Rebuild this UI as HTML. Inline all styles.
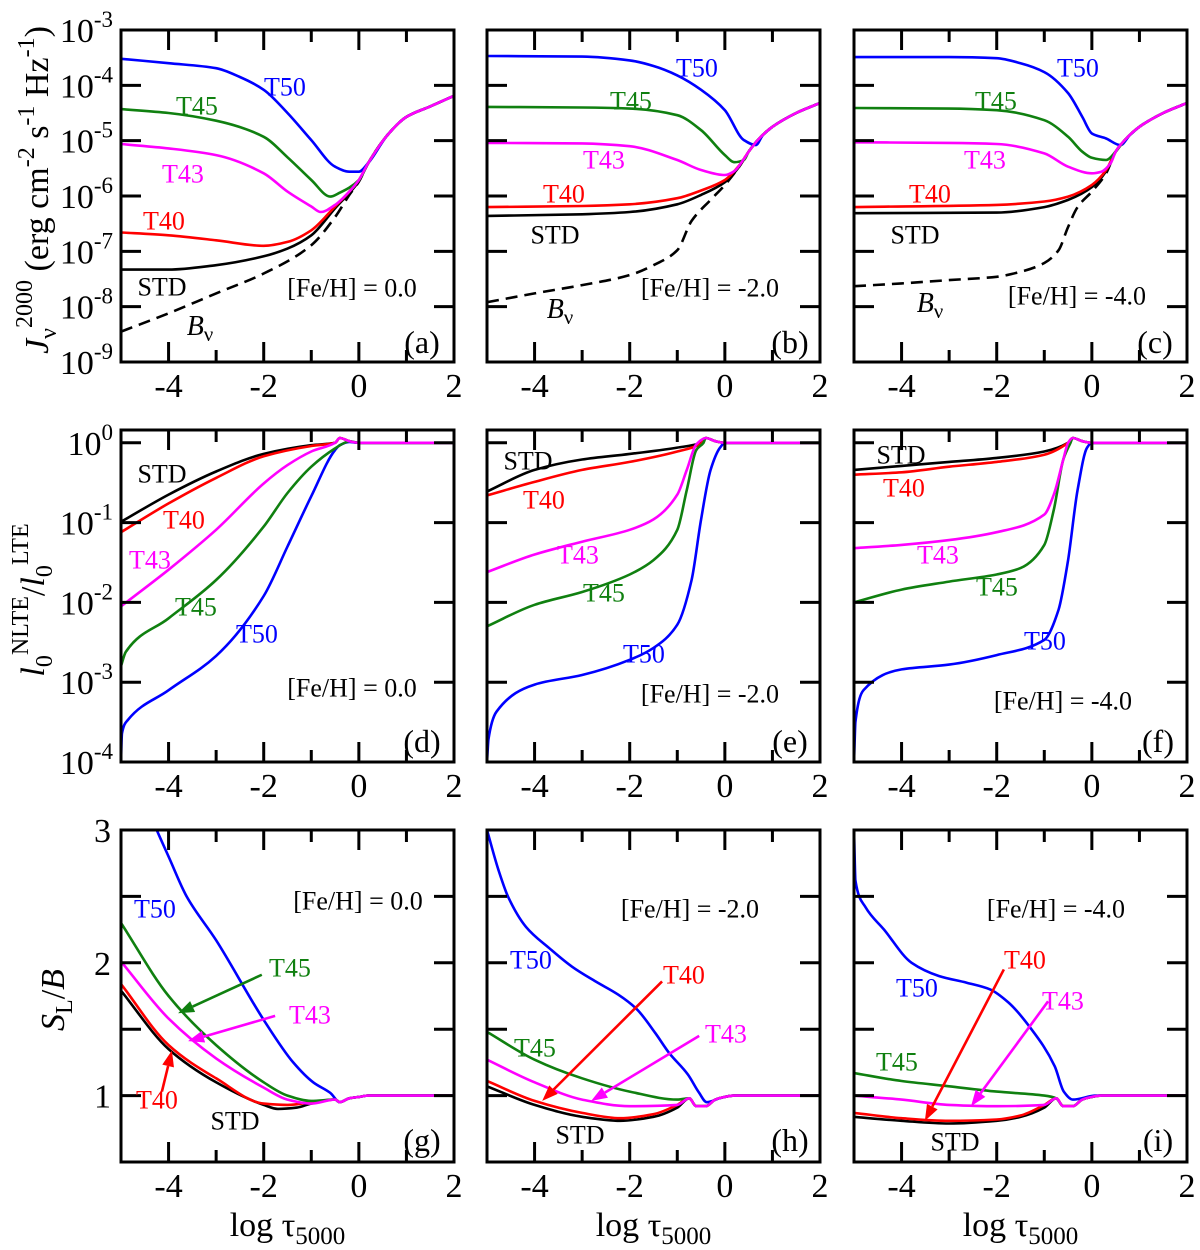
<!DOCTYPE html>
<html><head><meta charset="utf-8"><title>NLTE panels</title>
<style>
html,body{margin:0;padding:0;background:#fff;}
svg{display:block;font-family:"Liberation Serif","DejaVu Serif",serif;}
</style></head>
<body>
<svg id="fig" width="1200" height="1250" viewBox="0 0 1200 1250" xmlns="http://www.w3.org/2000/svg"></svg>
<script>
// ---------- data: row 1 (log10 J_nu) ----------
const tailA = [[0.2,-5.4],[0.6,-4.9],[1,-4.57],[1.5,-4.38],[2,-4.19]];
const a_T50 = [[-5,-3.52],[-4,-3.6],[-3,-3.69],[-2.5,-3.85],[-2,-4.08],[-1.5,-4.5],[-1,-4.99],[-0.5,-5.47],[-0.2,-5.56],[0,-5.56]];
const a_T45 = [[-5,-4.43],[-4,-4.5],[-3,-4.64],[-2,-4.93],[-1.5,-5.3],[-1,-5.71],[-0.6,-6.01],[-0.4,-5.94],[0,-5.71]];
const a_T43 = [[-5,-5.06],[-4,-5.14],[-3,-5.26],[-2,-5.59],[-1.5,-5.92],[-1,-6.19],[-0.8,-6.29],[-0.5,-6.16],[-0.2,-5.92],[0,-5.71]];
const a_T40 = [[-5,-6.66],[-4,-6.71],[-3,-6.8],[-2,-6.9],[-1.5,-6.83],[-1,-6.62],[-0.5,-6.19],[-0.2,-5.92],[0,-5.71]];
const a_STD = [[-5,-7.33],[-4,-7.33],[-3,-7.25],[-2,-7.09],[-1.5,-6.95],[-1,-6.71],[-0.5,-6.22],[0,-5.73]];
const a_Bv = [[-5,-8.45],[-4,-8.12],[-3,-7.76],[-2,-7.4],[-1,-6.89],[-0.5,-6.38],[-0.2,-5.98],[0,-5.74]];
const tailB = [[0.5,-5.2],[0.7,-4.98],[1,-4.75],[1.5,-4.5],[2,-4.32]];
const b_T50 = [[-5,-3.47],[-3,-3.48],[-2,-3.55],[-1.5,-3.65],[-1,-3.82],[-0.5,-4.08],[0,-4.45],[0.4,-4.99],[0.65,-5.08],[0.8,-4.9],[1,-4.75]];
const b_T45 = [[-5,-4.39],[-3,-4.4],[-2,-4.42],[-1,-4.54],[-0.5,-4.81],[0,-5.26],[0.2,-5.39],[0.4,-5.35]];
const b_T43 = [[-5,-5.04],[-3,-5.05],[-2,-5.1],[-1,-5.35],[-0.5,-5.53],[0,-5.62],[0.2,-5.55],[0.4,-5.33]];
const b_T40 = [[-5,-6.2],[-3,-6.18],[-2,-6.15],[-1,-6.04],[-0.5,-5.9],[0,-5.71],[0.3,-5.45]];
const b_STD = [[-5,-6.36],[-3,-6.33],[-2,-6.29],[-1,-6.15],[-0.5,-5.98],[0,-5.75],[0.3,-5.47]];
const b_Bv = [[-5,-7.92],[-4,-7.76],[-3,-7.61],[-2,-7.43],[-1.5,-7.25],[-1,-6.98],[-0.7,-6.45],[-0.3,-6.07],[0,-5.8],[0.3,-5.47]];
const tailC = [[0.5,-5.2],[0.7,-4.98],[1,-4.75],[1.5,-4.5],[2,-4.32]];
const c_T50 = [[-5,-3.49],[-3,-3.49],[-2,-3.51],[-1.5,-3.6],[-1,-3.76],[-0.5,-4.14],[-0.2,-4.57],[0,-4.87],[0.3,-4.96],[0.6,-5.08],[0.8,-4.9],[1,-4.75]];
const c_T45 = [[-5,-4.41],[-3,-4.42],[-2,-4.45],[-1,-4.63],[-0.5,-4.93],[-0.2,-5.2],[0,-5.31],[0.3,-5.35]];
const c_T43 = [[-5,-5.03],[-3,-5.04],[-2,-5.06],[-1,-5.23],[-0.5,-5.47],[0,-5.59],[0.2,-5.56],[0.4,-5.4]];
const c_T40 = [[-5,-6.2],[-2,-6.16],[-1,-6.1],[-0.5,-6.01],[0,-5.8],[0.3,-5.53]];
const c_STD = [[-5,-6.31],[-2,-6.3],[-1,-6.2],[-0.5,-6.07],[0,-5.84],[0.3,-5.55]];
const c_Bv = [[-5,-7.63],[-4,-7.58],[-3,-7.52],[-2,-7.46],[-1.5,-7.37],[-1,-7.21],[-0.7,-6.98],[-0.5,-6.56],[-0.3,-6.2],[0,-5.92],[0.3,-5.59]];
// ---------- data: row 2 (log10 departure coefficient) ----------
const tail2 = [[-0.4,0.06],[-0.2,0.02],[0,0],[2,0]];
const d_STD = [[-5,-0.99],[-4,-0.65],[-3,-0.36],[-2,-0.14],[-1,-0.03],[-0.5,0]];
const d_T40 = [[-5,-1.12],[-4,-0.76],[-3,-0.44],[-2,-0.17],[-1,-0.04],[-0.5,0]];
const d_T43 = [[-5,-2.05],[-4,-1.59],[-3,-1.09],[-2,-0.51],[-1.5,-0.28],[-1,-0.11],[-0.5,0]];
const d_T45 = [[-5,-2.8],[-4.9,-2.62],[-4,-2.2],[-3,-1.72],[-2,-1.05],[-1.5,-0.63],[-1,-0.3],[-0.5,-0.07],[-0.3,0]];
const d_T50 = [[-5,-4],[-4.98,-3.64],[-4.85,-3.47],[-4,-3.1],[-3,-2.67],[-2,-1.92],[-1.5,-1.3],[-1,-0.67],[-0.5,-0.09],[-0.4,-0.03],[-0.2,0.01]];
const e_STD = [[-5,-0.61],[-4,-0.34],[-3,-0.21],[-2,-0.14],[-1,-0.06],[-0.5,0]];
const e_T40 = [[-5,-0.66],[-4,-0.49],[-3,-0.34],[-2,-0.24],[-1,-0.11],[-0.5,-0.01]];
const e_T43 = [[-5,-1.62],[-4,-1.4],[-3,-1.24],[-2,-1.09],[-1.5,-0.96],[-1,-0.65],[-0.8,-0.34],[-0.6,-0.02]];
const e_T45 = [[-5,-2.3],[-4,-2.03],[-3,-1.87],[-2,-1.65],[-1.5,-1.47],[-1,-1.09],[-0.8,-0.59],[-0.6,-0.09],[-0.45,0]];
const e_T50 = [[-5,-4],[-4.97,-3.72],[-4.8,-3.37],[-4,-3.03],[-3,-2.91],[-2,-2.72],[-1.5,-2.57],[-1,-2.28],[-0.7,-1.72],[-0.5,-0.96],[-0.3,-0.34],[-0.1,-0.06],[0,0]];
const f_STD = [[-5,-0.34],[-4,-0.29],[-3,-0.24],[-2,-0.19],[-1,-0.11],[-0.5,0]];
const f_T40 = [[-5,-0.4],[-4,-0.37],[-3,-0.3],[-2,-0.24],[-1,-0.15],[-0.5,0]];
const f_T43 = [[-5,-1.32],[-4,-1.28],[-3,-1.22],[-2,-1.12],[-1,-0.9],[-0.8,-0.65],[-0.6,-0.21],[-0.5,0]];
const f_T45 = [[-5,-2.0],[-4,-1.84],[-3,-1.74],[-2,-1.65],[-1.5,-1.57],[-1,-1.28],[-0.8,-0.84],[-0.6,-0.21],[-0.45,0]];
const f_T50 = [[-5,-4],[-4.97,-3.5],[-4.8,-3.1],[-4,-2.84],[-3,-2.78],[-2,-2.66],[-1,-2.47],[-0.7,-2.09],[-0.5,-1.47],[-0.3,-0.59],[-0.1,-0.06],[0,0]];
// ---------- data: row 3 (S_L/B) ----------
const tailG = [[-0.4,0.95],[-0.2,0.98],[0,0.99],[0.2,1.0],[2,1.0]];
const g_STD = [[-5,1.79],[-4,1.35],[-3,1.1],[-2,0.93],[-1.7,0.9],[-1.3,0.91],[-1,0.94],[-0.5,0.97]];
const g_T40 = [[-5,1.84],[-4,1.38],[-3,1.13],[-2,0.94],[-1.5,0.93],[-1,0.95],[-0.5,0.97]];
const g_T43 = [[-5,2.01],[-4,1.58],[-3,1.28],[-2,1.06],[-1.5,0.97],[-1,0.94],[-0.5,0.97]];
const g_T45 = [[-5,2.3],[-4,1.75],[-3,1.38],[-2,1.1],[-1.5,1.0],[-1,0.96],[-0.5,0.97]];
const g_T50 = [[-4.4,3.12],[-4.25,3.0],[-4,2.8],[-3.62,2.5],[-3,2.17],[-2,1.57],[-1.38,1.25],[-0.96,1.1],[-0.6,1.02]];
const tailH = [[-0.75,0.98],[-0.6,0.92],[-0.4,0.92],[-0.2,0.97],[0,0.99],[0.2,1.0],[2,1.0]];
const h_STD = [[-5,1.07],[-4,0.93],[-3,0.84],[-2.2,0.81],[-1.5,0.84],[-1,0.91]];
const h_T40 = [[-5,1.11],[-4,0.96],[-3,0.87],[-2.2,0.83],[-1.5,0.86],[-1,0.93]];
const h_T43 = [[-5,1.27],[-4,1.1],[-3,0.97],[-2,0.92],[-1,0.93]];
const h_T45 = [[-5,1.48],[-4,1.27],[-3,1.13],[-2,1.03],[-1,0.97]];
const h_T50 = [[-5,3.0],[-4.76,2.7],[-4.56,2.5],[-4.18,2.27],[-3.69,2.11],[-3.21,1.97],[-2.72,1.86],[-2.24,1.76],[-1.85,1.65],[-1.46,1.47],[-1.17,1.32],[-0.78,1.16],[-0.54,1.02],[-0.38,0.95],[-0.11,0.98]];
const tailI = [[-0.75,0.98],[-0.6,0.92],[-0.4,0.92],[-0.2,0.97],[0,0.99],[0.2,1.0],[2,1.0]];
const i_STD = [[-5,0.84],[-4,0.81],[-3,0.79],[-2,0.81],[-1.5,0.84],[-1,0.91]];
const i_T40 = [[-5,0.87],[-4,0.83],[-3,0.81],[-2,0.82],[-1.5,0.85],[-1,0.93]];
const i_T43 = [[-5,1.0],[-4,0.97],[-3,0.93],[-2,0.92],[-1,0.93]];
const i_T45 = [[-5,1.17],[-4,1.11],[-3,1.07],[-2,1.03],[-1,1.0]];
const i_T50 = [[-5,3.0],[-4.97,2.62],[-4.76,2.42],[-4.37,2.25],[-3.79,2.0],[-3.21,1.9],[-2.63,1.85],[-2.14,1.8],[-1.75,1.7],[-1.27,1.5],[-0.78,1.22],[-0.59,1.03],[-0.4,0.97],[0.09,1.0]];
// arrows (data coords): [fromX, fromY, toX, toY]
const g_arrowT45 = [-2.04,1.91,-3.8,1.62];
const g_arrowT43 = [-1.76,1.6,-3.59,1.41];
const g_arrowT40 = [-4.14,1.03,-3.93,1.34];
const h_arrowT40 = [-1.32,1.86,-3.84,0.96];
const h_arrowT43 = [-0.54,1.45,-2.81,0.96];
const i_arrowT40 = [-1.85,1.95,-3.51,0.81];
const i_arrowT43 = [-0.92,1.71,-2.54,0.92];
const xTickLabels = ['-4','-2','0','2'];
const xTickValues = [-4,-2,0,2];
const row1Ticks = [-9,-8,-7,-6,-5,-4,-3];
const row2Ticks = [-4,-3,-2,-1,0];
const row3Ticks = [0.5,1,1.5,2,2.5,3];
const row3Labels = ['1','2','3'];

// ---------- layout ----------
const NS = 'http://www.w3.org/2000/svg';
const svg = document.getElementById('fig');
const colL = [121, 487, 854];
const PW = 333;
const rows = [
  {top:30, bot:362, ymin:-9, ymax:-3},
  {top:430, bot:762, ymin:-4, ymax:0.16},
  {top:830, bot:1162, ymin:0.5, ymax:3}
];
const COL = {T50:'#0000ff', T45:'#108010', T43:'#ff00ff', T40:'#ff0000', STD:'#000000', Bv:'#000000'};
function xs(c, x){ return colL[c] + (x + 5) / 7 * PW; }
function ys(r, v){ const R = rows[r]; return R.bot - (v - R.ymin) / (R.ymax - R.ymin) * (R.bot - R.top); }
function mk(tag, attrs, parent){
  const el = document.createElementNS(NS, tag);
  for (const k in attrs) el.setAttribute(k, attrs[k]);
  (parent || svg).appendChild(el);
  return el;
}
function withTail(arr, tail){
  const last = arr[arr.length-1][0];
  return arr.concat(tail.filter(p => p[0] > last + 1e-9));
}
// monotone cubic (Fritsch-Carlson) through points, in pixel space
function pathD(c, r, pts){
  const P = pts.map(p => [xs(c,p[0]), ys(r,p[1])]);
  const n = P.length;
  const dl = [], h = [];
  for (let i = 0; i < n-1; i++){ h.push(P[i+1][0]-P[i][0]); dl.push((P[i+1][1]-P[i][1]) / h[i]); }
  const m = new Array(n);
  m[0] = dl[0]; m[n-1] = dl[n-2];
  for (let i = 1; i < n-1; i++){
    if (dl[i-1]*dl[i] <= 0) m[i] = 0;
    else {
      const w1 = 2*h[i] + h[i-1], w2 = h[i] + 2*h[i-1];
      m[i] = (w1 + w2) / (w1/dl[i-1] + w2/dl[i]);
    }
  }
  let d = 'M' + P[0][0].toFixed(1) + ' ' + P[0][1].toFixed(1);
  for (let i = 0; i < n-1; i++){
    const dx = h[i]/3;
    d += ' C' + (P[i][0]+dx).toFixed(1) + ' ' + (P[i][1]+m[i]*dx).toFixed(1) + ' ' +
         (P[i+1][0]-dx).toFixed(1) + ' ' + (P[i+1][1]-m[i+1]*dx).toFixed(1) + ' ' +
         P[i+1][0].toFixed(1) + ' ' + P[i+1][1].toFixed(1);
  }
  return d;
}

const panels = [
  {id:'a', c:0, r:0, tail:tailA, series:{Bv:a_Bv, STD:a_STD, T40:a_T40, T50:a_T50, T45:a_T45, T43:a_T43}},
  {id:'b', c:1, r:0, tail:tailB, series:{Bv:b_Bv, STD:b_STD, T40:b_T40, T50:b_T50, T45:b_T45, T43:b_T43}},
  {id:'c', c:2, r:0, tail:tailC, series:{Bv:c_Bv, STD:c_STD, T40:c_T40, T50:c_T50, T45:c_T45, T43:c_T43}},
  {id:'d', c:0, r:1, tail:tail2, series:{STD:d_STD, T40:d_T40, T50:d_T50, T45:d_T45, T43:d_T43}},
  {id:'e', c:1, r:1, tail:tail2, series:{STD:e_STD, T40:e_T40, T50:e_T50, T45:e_T45, T43:e_T43}},
  {id:'f', c:2, r:1, tail:tail2, series:{STD:f_STD, T40:f_T40, T50:f_T50, T45:f_T45, T43:f_T43}},
  {id:'g', c:0, r:2, tail:tailG, series:{STD:g_STD, T40:g_T40, T50:g_T50, T45:g_T45, T43:g_T43}},
  {id:'h', c:1, r:2, tail:tailH, series:{STD:h_STD, T40:h_T40, T50:h_T50, T45:h_T45, T43:h_T43}},
  {id:'i', c:2, r:2, tail:tailI, series:{STD:i_STD, T40:i_T40, T50:i_T50, T45:i_T45, T43:i_T43}}
];

const defs = mk('defs', {});
panels.forEach(p => {
  const R = rows[p.r], L = colL[p.c];
  const cp = mk('clipPath', {id:'clip-'+p.id}, defs);
  mk('rect', {x:L, y:R.top, width:PW, height:R.bot-R.top}, cp);
  const g = mk('g', {});
  
  
  const curves = mk('g', {'clip-path':'url(#clip-'+p.id+')'}, g);
  for (const key in p.series){
    const pts = withTail(p.series[key], p.tail);
    const path = mk('path', {d:pathD(p.c, p.r, pts), fill:'none', stroke:COL[key], 'stroke-width':2.6, 'stroke-linejoin':'round', 'stroke-dasharray': key==='Bv' ? '12 7' : 'none'}, curves);
    
    
  }
  for (let x = -5; x <= 2; x++){
    const len = (x % 2 === 0) ? 20 : 12;
    const X = xs(p.c, x);
    mk('line', {x1:X, y1:R.bot, x2:X, y2:R.bot-len, stroke:'#000', 'stroke-width':3}, g);
    mk('line', {x1:X, y1:R.top, x2:X, y2:R.top+len, stroke:'#000', 'stroke-width':3}, g);
  }
  const yt = p.r === 0 ? row1Ticks : (p.r === 1 ? row2Ticks : row3Ticks);
  yt.forEach(v => {
    const Y = ys(p.r, v);
    mk('line', {x1:L, y1:Y, x2:L+20, y2:Y, stroke:'#000', 'stroke-width':3}, g);
    mk('line', {x1:L+PW, y1:Y, x2:L+PW-20, y2:Y, stroke:'#000', 'stroke-width':3}, g);
  });
  const frame = mk('rect', {x:L, y:R.top, width:PW, height:R.bot-R.top, fill:'none', stroke:'#000', 'stroke-width':3}, g);
  
  
  xTickValues.forEach((v, i) => {
    const t = mk('text', {x:xs(p.c, v), y:R.bot+35, 'text-anchor':'middle', 'font-size':34}, g);
    t.textContent = xTickLabels[i];
    
    
  });
  if (p.c === 0){
    if (p.r < 2){
      yt.forEach(v => {
        const t = mk('text', {x:L-8, y:ys(p.r, v)+12, 'text-anchor':'end', 'font-size':34}, g);
        t.textContent = '10';
        const s = mk('tspan', {dy:-15, 'font-size':23}, t);
        s.textContent = v === 0 ? '0' : String(v);
        
        
      });
    } else {
      [1,2,3].forEach((v, i) => {
        const t = mk('text', {x:L-10, y:ys(p.r, v)+12, 'text-anchor':'end', 'font-size':34}, g);
        t.textContent = row3Labels[i];
        
        
      });
    }
  }
});

// ---------- annotations ----------
function label(txt, x, y, color, name, size){
  const t = mk('text', {x:x, y:y, 'text-anchor':'middle', 'dominant-baseline':'central', 'font-size':size||26, fill:color});
  t.textContent = txt;
  
  
  return t;
}
const labs = [
 ['T50',285,87,'T50'],['T45',197,106,'T45'],['T43',183,174,'T43'],['T40',164,221,'T40'],['STD',162,287,'STD'],['[Fe/H] = 0.0',352,288,'STD'],['(a)',422,342,'STD'],
 ['T50',697,68,'T50'],['T45',631,101,'T45'],['T43',604,160,'T43'],['T40',564,194,'T40'],['STD',555,235,'STD'],['[Fe/H] = -2.0',710,288,'STD'],['(b)',790,342,'STD'],
 ['T50',1078,68,'T50'],['T45',996,101,'T45'],['T43',985,160,'T43'],['T40',930,194,'T40'],['STD',915,235,'STD'],['[Fe/H] = -4.0',1077,296,'STD'],['(c)',1155,342,'STD'],
 ['STD',162,474,'STD'],['T40',184,520,'T40'],['T43',150,560,'T43'],['T45',196,607,'T45'],['T50',257,634,'T50'],['[Fe/H] = 0.0',352,688,'STD'],['(d)',422,741,'STD'],
 ['STD',528,461,'STD'],['T40',544,500,'T40'],['T43',578,555,'T43'],['T45',604,593,'T45'],['T50',644,654,'T50'],['[Fe/H] = -2.0',710,694,'STD'],['(e)',790,741,'STD'],
 ['STD',901,455,'STD'],['T40',904,488,'T40'],['T43',938,555,'T43'],['T45',997,587,'T45'],['T50',1045,641,'T50'],['[Fe/H] = -4.0',1063,701,'STD'],['(f)',1158,741,'STD'],
 ['T50',155,909,'T50'],['[Fe/H] = 0.0',358,901,'STD'],['T45',290,968,'T45'],['T43',310,1015,'T43'],['T40',157,1100,'T40'],['STD',235,1121,'STD'],['(g)',422,1140,'STD'],
 ['[Fe/H] = -2.0',690,909,'STD'],['T50',531,960,'T50'],['T40',684,975,'T40'],['T43',726,1034,'T43'],['T45',535,1048,'T45'],['STD',580,1135,'STD'],['(h)',790,1140,'STD'],
 ['[Fe/H] = -4.0',1056,909,'STD'],['T40',1025,960,'T40'],['T50',917,988,'T50'],['T43',1063,1001,'T43'],['T45',897,1062,'T45'],['STD',955,1142,'STD'],['(i)',1158,1140,'STD']
];
labs.forEach(l => {
  const big = l[0].charAt(0) === '(';
  label(l[0], l[1], l[2], COL[l[3]], big ? 'panel-tag' : (l[0].charAt(0)==='[' ? 'metallicity-label' : 'series-label-' + l[0].toLowerCase()), big ? 32 : 26);
});
[[200,325],[560,308],[930,302]].forEach(pos => {
  const t = mk('text', {x:pos[0], y:pos[1]+10, 'text-anchor':'middle', 'font-size':28, 'font-style':'italic'});
  t.textContent = 'B';
  const s = mk('tspan', {dy:6, 'font-size':21, 'font-style':'normal'}, t);
  s.textContent = 'ν';
  
  
});
function arrow(c, a, color, name){
  const x1 = xs(c,a[0]), y1 = ys(2,a[1]), x2 = xs(c,a[2]), y2 = ys(2,a[3]);
  const ang = Math.atan2(y2-y1, x2-x1), hl = 16, hw = 6;
  const bx = x2 - hl*Math.cos(ang), by = y2 - hl*Math.sin(ang);
  const g = mk('g', {});
  
  
  mk('line', {x1:x1, y1:y1, x2:bx, y2:by, stroke:color, 'stroke-width':2.6}, g);
  const px = -Math.sin(ang)*hw, py = Math.cos(ang)*hw;
  mk('polygon', {points:`${x2},${y2} ${bx+px},${by+py} ${bx-px},${by-py}`, fill:color}, g);
}
arrow(0, g_arrowT45, COL.T45, 'arrow-t45-g');
arrow(0, g_arrowT43, COL.T43, 'arrow-t43-g');
arrow(0, g_arrowT40, COL.T40, 'arrow-t40-g');
arrow(1, h_arrowT40, COL.T40, 'arrow-t40-h');
arrow(1, h_arrowT43, COL.T43, 'arrow-t43-h');
arrow(2, i_arrowT40, COL.T40, 'arrow-t40-i');
arrow(2, i_arrowT43, COL.T43, 'arrow-t43-i');

[0,1,2].forEach(c => {
  const t = mk('text', {x:xs(c,-1.5), y:1236, 'text-anchor':'middle', 'font-size':34});
  t.textContent = 'log τ';
  const s = mk('tspan', {dy:8, 'font-size':25}, t);
  s.textContent = '5000';
  
  
});
</script>
<div style="position:absolute;left:0;top:0;width:1200px;height:1250px;pointer-events:none;">
<svg width="1200" height="1250" viewBox="0 0 1200 1250" style="position:absolute;left:0;top:0;font-family:'Liberation Serif','DejaVu Serif',serif;">
  <text transform="translate(48,190) rotate(-90)" text-anchor="middle" font-size="34"><tspan font-style="italic">J</tspan><tspan font-size="24" dy="8">ν</tspan><tspan font-size="24" dy="-24">2000</tspan><tspan dy="16"> (erg cm</tspan><tspan font-size="24" dy="-14">-2</tspan><tspan dy="14"> s</tspan><tspan font-size="24" dy="-14">-1</tspan><tspan dy="14"> Hz</tspan><tspan font-size="24" dy="-14">-1</tspan><tspan dy="14">)</tspan></text>
  <text transform="translate(44,600) rotate(-90)" text-anchor="middle" font-size="34"><tspan font-style="italic">l</tspan><tspan font-size="24" dy="8">0</tspan><tspan font-size="24" dy="-24">NLTE</tspan><tspan dy="16">/</tspan><tspan font-style="italic">l</tspan><tspan font-size="24" dy="8">0</tspan><tspan font-size="24" dy="-24">LTE</tspan></text>
  <text transform="translate(64,1000) rotate(-90)" text-anchor="middle" font-size="34"><tspan font-style="italic">S</tspan><tspan font-size="24" dy="8">L</tspan><tspan dy="-8">/</tspan><tspan font-style="italic">B</tspan></text>
</svg>
</div>
</body></html>
